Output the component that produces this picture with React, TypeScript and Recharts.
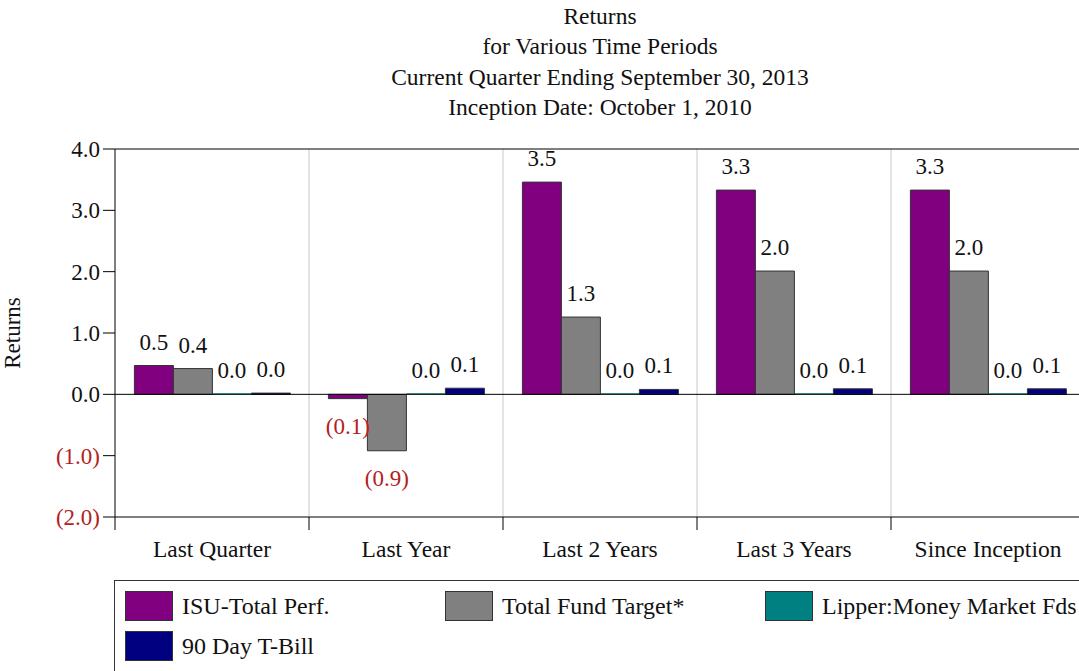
import { BarChart, Bar, XAxis, YAxis, CartesianGrid, ReferenceLine, LabelList, Label } from 'recharts'

const CATEGORIES = ['Last Quarter', 'Last Year', 'Last 2 Years', 'Last 3 Years', 'Since Inception']
const ISU_TOTAL = [0.47, -0.07, 3.46, 3.33, 3.33]
const FUND_TARGET = [0.42, -0.92, 1.26, 2.01, 2.01]
const LIPPER_MM = [0, 0, 0, 0, 0]
const TBILL_90 = [0.02, 0.1, 0.08, 0.09, 0.09]
const Y_TICKS = [-2, -1, 0, 1, 2, 3, 4]
const TITLE_LINES = [
  'Returns',
  'for Various Time Periods',
  'Current Quarter Ending September 30, 2013',
  'Inception Date: October 1, 2010',
]

const SERIES = [
  { key: 'isu', name: 'ISU-Total Perf.', color: '#800080' },
  { key: 'target', name: 'Total Fund Target*', color: '#808080' },
  { key: 'lipper', name: 'Lipper:Money Market Fds', color: '#008080' },
  { key: 'tbill', name: '90 Day T-Bill', color: '#000080' },
]

const data = CATEGORIES.map((c, i) => ({
  name: c,
  isu: ISU_TOTAL[i],
  target: FUND_TARGET[i],
  lipper: LIPPER_MM[i],
  tbill: TBILL_90[i],
}))

const FONT = '"Liberation Serif", "Times New Roman", serif'
const RED = '#b22222'

const CHART_W = 1100
const MARGIN = { top: 149, right: 15, bottom: 94, left: 0 }
const Y_W = 115
const BAND = (CHART_W - MARGIN.left - MARGIN.right - Y_W) / CATEGORIES.length

function fmt(v: number) {
  return v < 0 ? `(${Math.abs(v).toFixed(1)})` : v.toFixed(1)
}

const renderValue = (props: any) => {
  const { x, y, width, height, value } = props
  const v = Number(value)
  const top = Math.min(y, y + height)
  const bottom = Math.max(y, y + height)
  const cx = x + width / 2
  // zero bars get a 1px min size, so measure from the zero line
  const labelTop = v === 0 ? bottom : top
  return (
    <text x={cx} y={v < 0 ? bottom + 35 : labelTop - 16} textAnchor="middle"
      fontFamily={FONT} fontSize={23} fill={v < 0 ? RED : '#111'}>
      {fmt(v)}
    </text>
  )
}

function YTick(props: any) {
  const { x, y, payload } = props
  const v = Number(payload.value)
  return (
    <text x={x} y={y} dy={8} textAnchor="end" fontFamily={FONT} fontSize={23} fill={v < 0 ? RED : '#111'}>
      {fmt(v)}
    </text>
  )
}

function XTick(props: any) {
  const { x, y, payload } = props
  return (
    <g>
      <line x1={x - BAND / 2} x2={x - BAND / 2} y1={y} y2={y + 13} stroke="#000" />
      <text x={x} y={y + 40} textAnchor="middle" fontFamily={FONT} fontSize={23.5} fill="#111">
        {payload.value}
      </text>
    </g>
  )
}

export default function App() {
  return (
    <div style={{ position: 'absolute', left: 0, top: 0, width: 1079, height: 671, overflow: 'hidden', background: '#fff', fontFamily: FONT }}>
      <div style={{ position: 'absolute', left: 300, top: 1, width: 600, textAlign: 'center', fontSize: 23.5, lineHeight: '30.3px', color: '#111' }}>
        {TITLE_LINES.map(t => <div key={t}>{t}</div>)}
      </div>

      <BarChart width={CHART_W} height={671} data={data} margin={MARGIN}
        barCategoryGap="10%" barGap={0} style={{ position: 'absolute', left: 0, top: 0 }}>
        <CartesianGrid horizontal={false} stroke="#c8c8c8"
          verticalCoordinatesGenerator={({ offset }: any) =>
            CATEGORIES.map((_, i) => offset.left + (i * offset.width) / CATEGORIES.length).slice(1)} />
        <XAxis dataKey="name" interval={0} tickSize={0} tickMargin={0} tickLine={false}
          axisLine={{ stroke: '#000' }} height={60} tick={<XTick />} />
        <YAxis domain={[-2, 4]} ticks={Y_TICKS} interval={0} width={Y_W} tickSize={12} tickMargin={3}
          axisLine={{ stroke: '#000' }} tickLine={{ stroke: '#000' }} tick={<YTick />}>
          <Label value="Returns" angle={-90} position="insideLeft" offset={12}
            style={{ fontFamily: FONT, fontSize: 23, fill: '#111', textAnchor: 'middle' }} />
        </YAxis>
        {SERIES.map(s => (
          <Bar key={s.key} dataKey={s.key} name={s.name} fill={s.color}
            stroke={s.key === 'lipper' ? 'none' : '#333'} strokeWidth={1}
            minPointSize={s.key === 'lipper' ? 1 : 0}
            isAnimationActive={false}>
            <LabelList content={renderValue} />
          </Bar>
        ))}
        <ReferenceLine y={4} stroke="#000" />
        <ReferenceLine y={0} stroke="#000" />
      </BarChart>

      <div style={{ position: 'absolute', left: 114, top: 580, width: 1000, height: 120, border: '1.5px solid #333', boxSizing: 'border-box' }}>
        {SERIES.map((s, i) => (
          <div key={s.key} style={{ position: 'absolute', left: 10, top: 10 + Math.floor(i / 3) * 40, marginLeft: (i % 3) * 320, display: 'flex', alignItems: 'center' }}>
            <div style={{ width: 48, height: 30, background: s.color, border: '1px solid #333', boxSizing: 'border-box' }} />
            <span style={{ marginLeft: 9, fontSize: 24, color: '#111' }}>{s.name}</span>
          </div>
        ))}
      </div>
    </div>
  )
}
